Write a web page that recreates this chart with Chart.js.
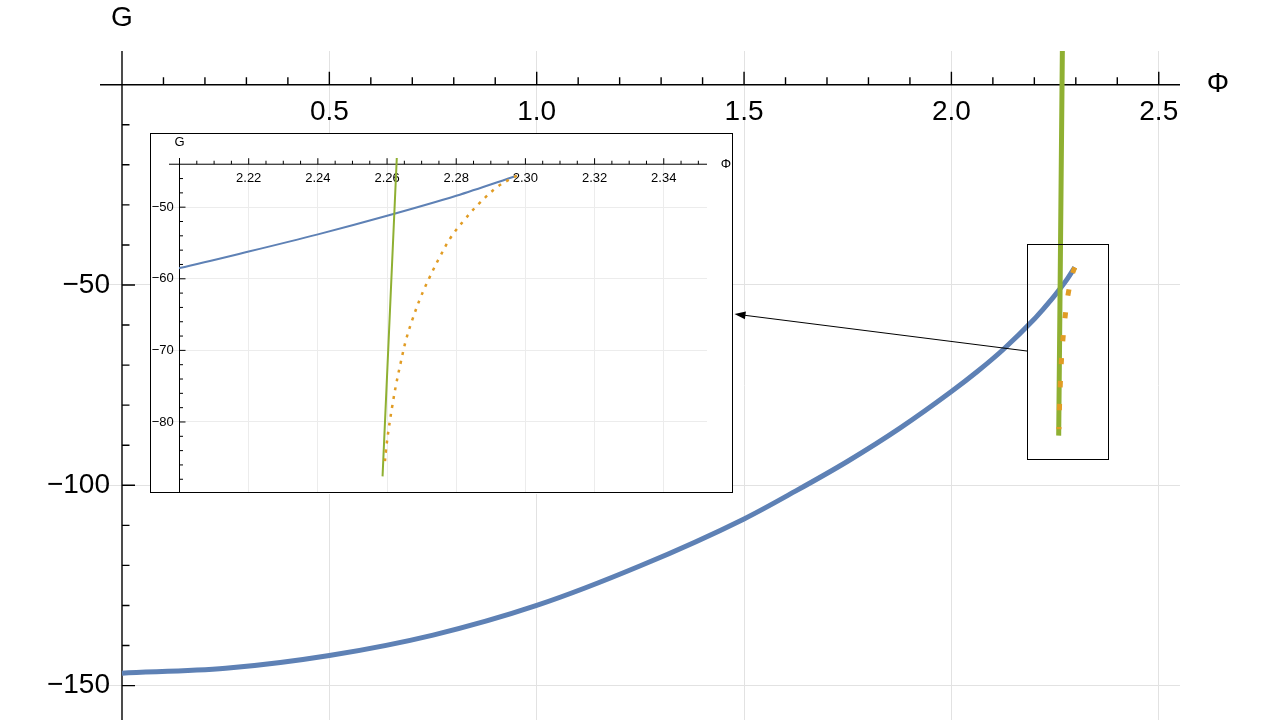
<!DOCTYPE html>
<html>
<head>
<meta charset="utf-8">
<script src="https://cdn.jsdelivr.net/npm/chart.js@4.4.1/dist/chart.umd.min.js"></script>
<style>
  html, body { margin: 0; padding: 0; background: #fff; }
  #wrap { position: relative; width: 1280px; height: 720px; }
  #main { position: absolute; left: 0; top: 0; }
  #inset { position: absolute; left: 150px; top: 133px; }
</style>
</head>
<body>
<div id="wrap">
  <canvas id="main" width="1280" height="720"></canvas>
  <canvas id="inset" width="583" height="361"></canvas>
</div>
<script>
// values
const blueX = [0, 0.25, 0.5, 0.75, 1.0, 1.25, 1.5, 1.625, 1.75, 1.875, 2.0, 2.0625, 2.125, 2.2, 2.22, 2.24, 2.26, 2.28, 2.2975];
const blueG = [-146.9, -145.7, -142.5, -137.4, -130.0, -120.1, -108.4, -101.4, -94.0, -85.8, -76.6, -71.6, -66.1, -58.5, -56.2, -53.8, -51.2, -48.4, -45.6];

const greenX = [2.2587, 2.2628, 2.2677];
const greenG = [-87.6, -43.3, 10];

const orangeX = [2.2975, 2.2921, 2.2868, 2.2825, 2.2786, 2.2753, 2.2724, 2.2697, 2.2674, 2.2655, 2.2640, 2.2626, 2.2615, 2.2605, 2.2597, 2.2593];
const orangeG = [-45.6, -47.1, -49.4, -51.7, -54.1, -56.9, -59.7, -62.6, -65.6, -68.5, -71.6, -74.8, -77.8, -80.9, -83.9, -86.0];

const mainTicksX = [0.5, 1.0, 1.5, 2.0, 2.5];
const mainTicksG = [-50, -100, -150];
const insetTicksX = [2.22, 2.24, 2.26, 2.28, 2.30, 2.32, 2.34];
const insetTicksG = [-50, -60, -70, -80];

const pts = (xs, ys) => xs.map((x, i) => ({x: x, y: ys[i]}));
const FONT = '"Liberation Sans", Arial, sans-serif';
const BLUE = '#5E81B5', ORANGE = '#E19C24', GREEN = '#8FB032';
const minus = (v) => '\u2212' + Math.abs(v);
const noPad = (s) => { s.paddingLeft = 0; s.paddingRight = 0; s.paddingTop = 0; s.paddingBottom = 0; };
const setTicks = (list) => (s) => { s.ticks = list.map(v => ({value: v})); };

// Mathematica style axes crossing at an origin, ticks pointing into the plot
const mathAxes = {
  id: 'mathAxes',
  beforeDraw(chart, args, o) {
    if (o.frame) {
      const ctx = chart.ctx;
      ctx.save();
      ctx.fillStyle = '#fff';
      ctx.fillRect(0, 0, chart.width, chart.height);
      ctx.restore();
    }
  },
  beforeDatasetsDraw(chart, args, o) {
    const {ctx, chartArea: a, scales: {x, y}} = chart;
    const x0 = x.getPixelForValue(o.originX);
    const y0 = y.getPixelForValue(o.originY);
    const isMajor = (v, m) => Math.abs(v / m - Math.round(v / m)) < 1e-6;
    ctx.save();
    ctx.strokeStyle = '#000';
    ctx.lineWidth = o.axisWidth;
    ctx.beginPath();
    ctx.moveTo(a.left, y0); ctx.lineTo(a.right, y0);
    ctx.moveTo(x0, a.top); ctx.lineTo(x0, a.bottom);
    ctx.stroke();
    ctx.lineWidth = o.tickWidth;
    ctx.beginPath();
    for (let i = 1; ; i++) {
      const v = o.originX + i * o.minorX;
      if (v > x.max) break;
      const px = x.getPixelForValue(v);
      ctx.moveTo(px, y0);
      ctx.lineTo(px, y0 - (isMajor(v, o.majorX) ? o.majorLen : o.minorLen));
    }
    for (let i = 1; ; i++) {
      const v = o.originY - i * o.minorY;
      if (v < y.min) break;
      const py = y.getPixelForValue(v);
      ctx.moveTo(x0, py);
      ctx.lineTo(x0 + (isMajor(v, o.majorY) ? o.majorLen : o.minorLen), py);
    }
    ctx.stroke();
    ctx.fillStyle = '#000';
    ctx.font = o.titleSize + 'px ' + FONT;
    ctx.textAlign = 'center';
    ctx.textBaseline = 'middle';
    ctx.fillText('G', x0, a.top - o.gGap);
    ctx.fillText('\u03A6', a.right + o.phiGap, y0);
    ctx.restore();
  },
  afterDraw(chart, args, o) {
    if (o.frame) {
      const ctx = chart.ctx;
      ctx.save();
      ctx.strokeStyle = '#000';
      ctx.lineWidth = 1;
      ctx.strokeRect(0.5, 0.5, chart.width - 1, chart.height - 2);
      ctx.restore();
    }
  }
};

// box round the zoomed region and the arrow pointing at the inset
const zoomMarker = {
  id: 'zoomMarker',
  afterDatasetsDraw(chart) {
    const {ctx, scales: {x, y}} = chart;
    const l = x.getPixelForValue(2.1816), r = x.getPixelForValue(2.3759);
    const t = y.getPixelForValue(-39.84), b = y.getPixelForValue(-93.51);
    ctx.save();
    ctx.strokeStyle = '#000';
    ctx.fillStyle = '#000';
    ctx.lineWidth = 1;
    ctx.strokeRect(Math.round(l) + 0.5, Math.round(t) + 0.5, Math.round(r - l), Math.round(b - t));
    const sx = Math.round(l) + 0.5, sy = y.getPixelForValue(-66.5);
    const ex = 734.5, ey = 314;
    const ang = Math.atan2(ey - sy, ex - sx);
    const c = Math.cos(ang), s = Math.sin(ang);
    ctx.beginPath();
    ctx.moveTo(sx, sy);
    ctx.lineTo(ex - 9 * c, ey - 9 * s);
    ctx.stroke();
    ctx.beginPath();
    ctx.moveTo(ex, ey);
    ctx.lineTo(ex - 11 * c - 4 * s, ey - 11 * s + 4 * c);
    ctx.lineTo(ex - 11 * c + 4 * s, ey - 11 * s - 4 * c);
    ctx.closePath();
    ctx.fill();
    ctx.restore();
  }
};

function datasets(wide, insetClip) {
  return [
    {
      data: pts(orangeX, orangeG),
      borderColor: ORANGE,
      borderWidth: wide ? 5 : 2.5,
      borderDash: wide ? [6, 17] : [3, 6],
      tension: 0.4,
      pointRadius: 0,
      order: 1
    },
    {
      data: pts(greenX, greenG),
      borderColor: GREEN,
      borderWidth: wide ? 5 : 2,
      tension: 0,
      pointRadius: 0,
      order: 2
    },
    {
      data: pts(blueX, blueG),
      borderColor: BLUE,
      borderWidth: wide ? 5 : 2,
      cubicInterpolationMode: 'monotone',
      pointRadius: 0,
      clip: insetClip ? {left: -10, top: 0, right: 0, bottom: 0} : undefined,
      order: 3
    }
  ];
}

function axisOptions(cfg) {
  return {
    type: 'linear',
    min: cfg.min,
    max: cfg.max,
    position: cfg.position,
    afterBuildTicks: setTicks(cfg.ticks),
    afterFit: noPad,
    border: { display: false },
    grid: { color: cfg.gridColor, lineWidth: 1, drawTicks: false },
    ticks: {
      autoSkip: false,
      maxRotation: 0,
      color: '#000',
      padding: cfg.padding,
      font: { family: FONT, size: cfg.fontSize },
      callback: cfg.format
    }
  };
}

Chart.defaults.font.family = FONT;

// y labels sit at the given position, so it is set a little left of the axis
new Chart(document.getElementById('main'), {
  type: 'line',
  data: { datasets: datasets(true, false) },
  options: {
    responsive: false,
    animation: false,
    events: [],
    layout: { padding: { left: 100, right: 100, top: 51, bottom: 0 } },
    plugins: {
      legend: { display: false },
      tooltip: { enabled: false },
      mathAxes: {
        originX: 0, originY: 0,
        minorX: 0.1, majorX: 0.5, minorY: 10, majorY: 50,
        majorLen: 13, minorLen: 7.5,
        axisWidth: 1.4, tickWidth: 1.4,
        titleSize: 28, gGap: 33, phiGap: 38
      }
    },
    scales: {
      x: axisOptions({
        min: -0.05305, max: 2.55124, position: { y: 0 }, ticks: mainTicksX,
        gridColor: '#e2e2e2', padding: 11, fontSize: 28,
        format: (v) => v.toFixed(1)
      }),
      y: axisOptions({
        min: -158.59, max: 8.412, position: { x: -0.029 }, ticks: mainTicksG,
        gridColor: '#e2e2e2', padding: 0, fontSize: 28,
        format: minus
      })
    }
  },
  plugins: [mathAxes, zoomMarker]
});

new Chart(document.getElementById('inset'), {
  type: 'line',
  data: { datasets: datasets(false, true) },
  options: {
    responsive: false,
    animation: false,
    events: [],
    layout: { padding: { left: 19, right: 26, top: 25, bottom: 2 } },
    plugins: {
      legend: { display: false },
      tooltip: { enabled: false },
      mathAxes: {
        frame: true,
        originX: 2.20, originY: -44,
        minorX: 0.005, majorX: 0.02, minorY: 2, majorY: 10,
        majorLen: 6, minorLen: 3.5,
        axisWidth: 1, tickWidth: 1,
        titleSize: 13, gGap: 16, phiGap: 19
      }
    },
    scales: {
      x: axisOptions({
        min: 2.19696, max: 2.35250, position: { y: -44 }, ticks: insetTicksX,
        gridColor: '#ececec', padding: 6, fontSize: 13,
        format: (v) => v.toFixed(2)
      }),
      y: axisOptions({
        min: -89.78, max: -43.13, position: { x: 2.19835 }, ticks: insetTicksG,
        gridColor: '#ececec', padding: 0, fontSize: 13,
        format: minus
      })
    }
  },
  plugins: [mathAxes]
});
</script>
</body>
</html>
